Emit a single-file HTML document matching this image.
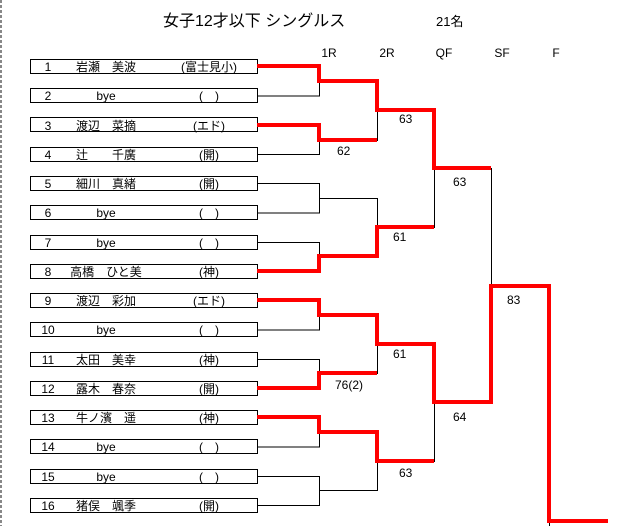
<!DOCTYPE html>
<html><head><meta charset="utf-8"><style>
html,body{margin:0;padding:0;background:#fff;width:631px;height:526px;overflow:hidden}
svg{display:block}
text{font-family:"Liberation Sans","Noto Sans CJK JP",sans-serif;font-size:12px;fill:#000}
</style></head><body>
<svg width="631" height="526" viewBox="0 0 631 526" xmlns="http://www.w3.org/2000/svg">
<line x1="1" y1="0" x2="1" y2="526" stroke="#888" stroke-width="2" stroke-dasharray="3,2"/>
<text x="163" y="26" style="font-size:16px">女子12才以下  シングルス</text>
<text x="436" y="26" style="font-size:13px">21名</text>
<g text-anchor="middle" style="font-size:12px">
<text x="329" y="57">1R</text><text x="387" y="57">2R</text><text x="444" y="57">QF</text><text x="502" y="57">SF</text><text x="556" y="57">F</text>
</g>
<g fill="none" stroke="#000" stroke-width="1">
<!-- boxes -->
<rect x="30.5" y="59.5" width="227" height="14"/>
<rect x="30.5" y="88.5" width="227" height="14"/>
<rect x="30.5" y="117.5" width="227" height="14"/>
<rect x="30.5" y="147.5" width="227" height="14"/>
<rect x="30.5" y="176.5" width="227" height="14"/>
<rect x="30.5" y="205.5" width="227" height="14"/>
<rect x="30.5" y="235.5" width="227" height="14"/>
<rect x="30.5" y="264.5" width="227" height="14"/>
<rect x="30.5" y="293.5" width="227" height="14"/>
<rect x="30.5" y="322.5" width="227" height="14"/>
<rect x="30.5" y="352.5" width="227" height="14"/>
<rect x="30.5" y="381.5" width="227" height="14"/>
<rect x="30.5" y="410.5" width="227" height="14"/>
<rect x="30.5" y="439.5" width="227" height="14"/>
<rect x="30.5" y="469.5" width="227" height="14"/>
<rect x="30.5" y="498.5" width="227" height="14"/>
<!-- R1 connectors -->
<path d="M257 66.5H319.5V96H257M257 125.5H319.5V154.5H257M257 183.5H319.5V213H257M257 242.5H319.5V271.5H257M257 300.5H319.5V330H257M257 359.5H319.5V388.5H257M257 417.5H319.5V447H257M257 476.5H319.5V505.5H257"/>
<path d="M319.5 81.5H377.5V140.5H319.5M319.5 198.5H377.5V256.5H319.5M319.5 315.5H377.5V373.5H319.5M319.5 432.5H377.5V490.5H319.5"/>
<path d="M377.5 110.5H434.5V227.5H377.5M377.5 344.5H434.5V461.5H377.5"/>
<path d="M434.5 168.5H491.5V402.5H434.5"/>
<path d="M491.5 286.5H549.5V526"/>
</g>
<g fill="none" stroke="#f00" stroke-width="4" stroke-linejoin="miter">
<path d="M257 66H319V81H377V110H434V168H491"/>
<path d="M257 125H319V140H377"/>
<path d="M257 271H319V256H377V227H434"/>
<path d="M257 300H319V315H377V344H434V402H491V286H549V521H608"/>
<path d="M257 388H319V373H377"/>
<path d="M257 417H319V432H377V461H434"/>
</g>
<g text-anchor="middle">
<text x="48" y="71">1</text><text x="106" y="71">岩瀬　美波</text><text x="209" y="71">(富士見小)</text>
<text x="48" y="100">2</text><text x="106" y="100">bye</text><text x="209" y="100">(　)</text>
<text x="48" y="130">3</text><text x="106" y="130">渡辺　菜摘</text><text x="209" y="130">(エド)</text>
<text x="48" y="159">4</text><text x="106" y="159">辻　　千廣</text><text x="209" y="159">(開)</text>
<text x="48" y="188">5</text><text x="106" y="188">細川　真緒</text><text x="209" y="188">(開)</text>
<text x="48" y="217">6</text><text x="106" y="217">bye</text><text x="209" y="217">(　)</text>
<text x="48" y="247">7</text><text x="106" y="247">bye</text><text x="209" y="247">(　)</text>
<text x="48" y="276">8</text><text x="106" y="276">高橋　ひと美</text><text x="209" y="276">(神)</text>
<text x="48" y="305">9</text><text x="106" y="305">渡辺　彩加</text><text x="209" y="305">(エド)</text>
<text x="48" y="334">10</text><text x="106" y="334">bye</text><text x="209" y="334">(　)</text>
<text x="48" y="364">11</text><text x="106" y="364">太田　美幸</text><text x="209" y="364">(神)</text>
<text x="48" y="393">12</text><text x="106" y="393">露木　春奈</text><text x="209" y="393">(開)</text>
<text x="48" y="422">13</text><text x="106" y="422">牛ノ濱　遥</text><text x="209" y="422">(神)</text>
<text x="48" y="451">14</text><text x="106" y="451">bye</text><text x="209" y="451">(　)</text>
<text x="48" y="481">15</text><text x="106" y="481">bye</text><text x="209" y="481">(　)</text>
<text x="48" y="510">16</text><text x="106" y="510">猪俣　颯季</text><text x="209" y="510">(開)</text>
</g>
<g style="font-size:13px">
<text x="337" y="155">62</text>
<text x="335" y="389">76(2)</text>
<text x="399" y="123">63</text>
<text x="393" y="241">61</text>
<text x="393" y="358">61</text>
<text x="399" y="477">63</text>
<text x="453" y="186">63</text>
<text x="453" y="421">64</text>
<text x="507" y="304">83</text>
</g>
</svg>
</body></html>
